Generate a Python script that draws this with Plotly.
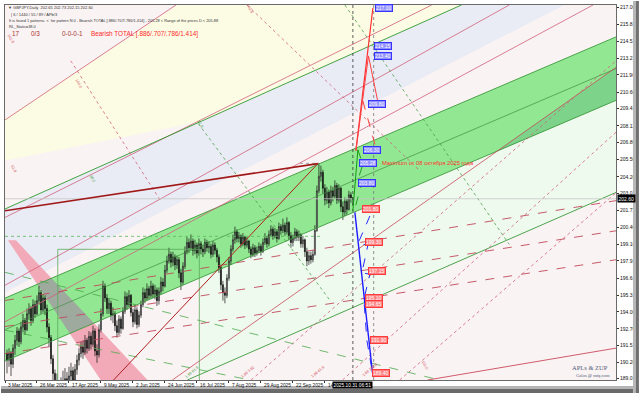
import plotly.graph_objects as go

# ---------------- candles (bar index 1..174, daily GBPJPY) ----------------
FIRST_OPEN = 190.9
CLOSE = [190.4, 190.9, 190.1, 191.3, 191.9, 192.6, 191.8, 192.9, 193.4, 192.7,
         193.9, 194.3, 193.4, 194.6, 193.9, 194.9, 195.5, 194.2, 195.1, 194.3,
         192.9, 192.1, 190.5, 189.4, 188.0, 187.4, 185.8, 188.2, 187.6, 189.0,
         188.3, 189.2, 189.6, 188.9, 189.7, 190.4, 190.9, 191.4, 191.0, 191.9,
         191.3, 192.2, 191.6, 192.6, 191.1, 190.8, 192.7, 193.9, 196.0, 195.1,
         194.3, 194.7, 193.8, 193.9, 193.0, 192.5, 193.5, 192.8, 194.1, 195.2,
         194.6, 195.3, 194.0, 193.3, 194.2, 193.1, 193.8, 194.6, 195.5, 195.1,
         195.8, 195.3, 196.0, 195.4, 195.7, 194.9, 195.6, 196.3, 196.0, 197.2,
         197.9, 198.4, 197.8, 198.2, 197.6, 198.0, 197.0, 196.3, 197.5, 198.6,
         199.3, 198.9, 199.4, 198.7, 199.1, 198.5, 199.2, 198.8, 198.6, 199.3,
         198.9, 199.0, 198.4, 199.1, 198.7, 198.2, 197.4, 196.1, 195.5, 195.3,
         196.6, 197.9, 198.8, 199.5, 200.1, 199.6, 199.8, 199.2, 199.7, 199.1,
         199.4, 198.8, 198.4, 198.9, 198.5, 198.7, 199.0, 198.6, 199.3, 199.6,
         199.2, 199.9, 200.3, 199.8, 200.1, 199.6, 200.5, 200.2, 200.6, 200.1,
         200.8, 199.8, 199.3, 199.6, 200.1, 199.7, 199.9, 199.2, 199.5, 198.6,
         197.9, 198.3, 198.0, 198.4, 200.2, 203.2, 204.3, 204.6, 203.4, 202.5,
         203.1, 202.3, 203.2, 202.8, 203.6, 202.5, 203.4, 202.0, 201.6, 202.4,
         201.8, 202.9, 202.65, 202.60]
HIGH = [191.2, 191.3, 191.1, 191.6, 192.3, 192.9, 192.8, 193.3, 193.9, 193.6,
        194.3, 194.7, 194.5, 195.0, 194.9, 195.3, 196.0, 195.7, 195.4, 195.3,
        194.6, 193.2, 192.3, 190.8, 189.7, 189.4, 188.2, 189.1, 189.6, 189.8,
        189.5, 189.9, 190.2, 189.9, 190.1, 190.8, 191.3, 191.8, 191.9, 192.3,
        192.1, 192.6, 192.5, 193.0, 192.8, 191.6, 193.1, 194.3, 196.4, 196.2,
        195.4, 195.1, 194.9, 194.4, 194.1, 193.4, 193.8, 193.7, 194.4, 195.6,
        195.5, 195.7, 195.4, 194.3, 194.6, 194.4, 194.1, 194.9, 195.9, 195.8,
        196.2, 196.0, 196.4, 196.2, 196.1, 195.9, 195.9, 196.7, 196.6, 197.6,
        198.3, 198.9, 198.6, 198.6, 198.4, 198.3, 198.2, 197.3, 197.8, 199.0,
        199.7, 199.6, 199.9, 199.6, 199.5, 199.3, 199.6, 199.4, 199.1, 199.6,
        199.5, 199.4, 199.2, 199.4, 199.3, 198.9, 198.4, 197.6, 196.4, 195.9,
        196.9, 198.2, 199.1, 199.9, 200.5, 200.3, 200.1, 199.9, 200.0, 199.8,
        199.7, 199.5, 199.0, 199.2, 199.1, 199.0, 199.3, 199.2, 199.6, 200.0,
        199.8, 200.2, 200.6, 200.5, 200.4, 200.3, 200.8, 200.7, 201.1, 200.8,
        201.2, 200.9, 200.1, 199.9, 200.4, 200.3, 200.2, 200.0, 199.8, 199.6,
        198.9, 198.6, 198.6, 198.7, 200.6, 203.6, 205.3, 205.1, 204.8, 203.7,
        203.5, 203.3, 203.6, 203.5, 204.0, 203.8, 203.7, 203.5, 202.4, 202.7,
        202.6, 203.2, 203.1, 202.73]
LOW = [189.4, 189.9, 189.2, 189.8, 190.8, 191.5, 191.4, 191.6, 192.5, 192.3,
       192.6, 193.5, 193.0, 193.2, 193.6, 193.8, 194.6, 193.9, 194.0, 193.8,
       192.5, 191.4, 190.1, 188.7, 186.9, 186.3, 184.9, 184.5, 187.0, 187.2,
       187.6, 188.0, 188.7, 188.4, 188.6, 189.3, 190.0, 190.6, 190.5, 190.8,
       190.9, 191.1, 191.2, 191.4, 190.7, 190.2, 190.6, 192.5, 193.7, 194.8,
       193.9, 193.9, 193.4, 193.2, 192.6, 192.1, 192.3, 192.4, 192.7, 193.9,
       194.2, 194.4, 193.7, 192.9, 193.1, 192.8, 192.9, 193.6, 194.4, 194.7,
       194.9, 195.0, 195.1, 195.1, 195.0, 194.5, 194.6, 195.4, 195.6, 195.9,
       197.0, 197.7, 197.4, 197.5, 197.2, 197.3, 196.6, 195.7, 196.1, 197.3,
       198.4, 198.5, 198.7, 198.3, 198.4, 198.1, 198.3, 198.4, 198.2, 198.4,
       198.6, 198.5, 198.1, 198.2, 198.4, 197.8, 197.0, 195.7, 194.9, 194.7,
       195.1, 196.4, 197.6, 198.6, 199.2, 199.3, 199.3, 198.9, 199.0, 198.8,
       198.9, 198.5, 198.1, 198.2, 198.2, 198.3, 198.5, 198.3, 198.5, 199.1,
       198.9, 199.0, 199.7, 199.5, 199.6, 199.3, 199.5, 199.9, 200.0, 199.8,
       199.9, 199.5, 198.9, 199.0, 199.4, 199.4, 199.4, 198.9, 198.9, 198.2,
       197.5, 197.6, 197.7, 197.8, 198.3, 200.1, 203.0, 203.9, 203.0, 202.1,
       202.2, 201.9, 202.1, 202.4, 202.6, 202.2, 202.3, 201.6, 201.0, 201.3,
       201.4, 201.7, 202.3, 202.15]
BARS = list(range(1, len(CLOSE) + 1))
OPEN = [FIRST_OPEN] + CLOSE[:-1]

# ---------------- axes ----------------
DATE_BARS = [0, 16, 32, 48, 64, 80, 96, 112, 128, 144, 160]
DATE_LABELS = ["3 Mar 2025", "26 Mar 2025", "17 Apr 2025", "9 May 2025", "2 Jun 2025",
               "24 Jun 2025", "16 Jul 2025", "7 Aug 2025", "29 Aug 2025", "22 Sep 2025",
               "14"]
PRICE_TICKS = [217.06, 215.81, 214.51, 213.21, 211.96, 210.66, 209.41, 208.11, 206.86,
               205.56, 204.26, 203.01, 201.71, 200.46, 199.16, 197.91, 196.61, 195.31,
               194.06, 192.76, 191.51, 190.26, 189.01]
X_RANGE = [0, 305.6]
Y_RANGE = [188.90, 217.25]
CURRENT_PRICE = 202.60
CURRENT_BAR = 174
CURRENT_TIME = "2025.10.31 06:51"

# ---------------- filled zones (bar index, price) ----------------
YELLOW_X = [0, 86.2, 228.3, 97.7, 0]
YELLOW_Y = [208.65, 217.25, 217.25, 208.43, 205.49]
LAVENDER_X = [0, 228.3, 279.7, 0]
LAVENDER_Y = [201.83, 217.25, 217.25, 195.53]
MINT_X = [97.7, 305.6, 305.6, 97.7]
MINT_Y = [196.64, 210.04, 203.08, 189.33]
BAND_X = [0, 305.6, 305.6, 0]
BAND_Y = [195.09, 214.84, 210.04, 190.33]
BAND_MID_X = [0, 305.6]
BAND_MID_Y = [192.71, 212.44]
BAND_DARK_X = [245.8, 305.6, 305.6]
BAND_DARK_Y = [206.18, 212.53, 210.04]
PINK_UP_X = [1.5, 5.48, 23.28, 16.10]
PINK_UP_Y = [199.46, 199.46, 196.60, 196.13]
PINK_LOW_X = [32.40, 44.47, 71.29, 47.86]
PINK_LOW_Y = [192.41, 193.20, 188.90, 188.90]
GRAY_X = [16.10, 23.28, 44.47, 32.40]
GRAY_Y = [196.13, 196.60, 193.20, 192.41]

# ---------------- lines (bar index, price) ----------------
XA_X, XA_Y = [0, 156.5], [201.70, 205.26]
BC_X, BC_Y = [54.3, 156.5], [188.90, 205.26]
G1_X, G1_Y = [0, 228.3], [201.83, 217.25]
G2_X, G2_Y = [91.2, 305.6], [188.90, 203.08]
PA_X, PA_Y = [0, 85.5], [208.56, 217.25]
P2_X, P2_Y = [0, 252.2], [196.06, 217.25]
P3_X, P3_Y = [0, 213.4], [201.19, 217.25]
P4_X, P4_Y = [0, 294.1], [193.30, 217.25]
LR_X, LR_Y = [83.7, 305.6], [188.90, 212.53]
FAN_X = [0, 305.6]
FAN1_Y = [194.91, 202.46]
FAN2_Y = [192.94, 200.18]
FAN3_Y = [190.90, 197.99]
LOWRED_X, LOWRED_Y = [211.4, 305.6], [188.90, 191.31]
DOTA_X, DOTA_Y = [168.8, 305.6], [188.90, 207.63]
DOTB_X, DOTB_Y = [197.4, 305.6], [188.90, 203.05]
DOTC_X, DOTC_Y = [123.1, 305.6], [188.90, 213.03]
GD1_X, GD1_Y = [96.7, 162.5], [208.28, 194.93]
GD2_X, GD2_Y = [170.0, 252.2], [217.25, 199.15]
RD1_X, RD1_Y = [121.1, 207.4], [217.25, 204.73]
RD2_X, RD2_Y = [32.9, 77.8], [213.03, 202.47]
G3_X, G3_Y = [0, 217.3], [197.04, 188.90]
G4_X, G4_Y = [0, 122.6], [192.67, 188.90]
RECT_X = [26.4, 26.4, 97.2, 97.2]
RECT_Y = [188.0, 198.78, 198.78, 188.0]
LEVEL_GREEN, LEVEL_GREEN_X = 199.76, [0, 158]
MAX_LEVEL, MAX_LEVEL_X = 205.28, [147.6, 157]
VLINE_BARS = [174, 184.4]

# ---------------- projection (pattern targets) ----------------
BLUE_MAIN_X, BLUE_MAIN_Y = [175, 183.8], [201.57, 189.45]
BLUE_ZIG_X = [182.5, 176.5, 181.5, 178.5, 182.5, 179.5, 181.0, 183.8]
BLUE_ZIG_Y = [201.3, 199.2, 199.1, 197.0, 196.9, 195.0, 191.9, 189.45]
RED_UP1_X, RED_UP1_Y = [175.5, 184.0], [206.24, 217.02]
RED_UP2_X, RED_UP2_Y = [175.5, 181.8, 186.4], [206.24, 213.4, 210.0]
RED_UP3_X, RED_UP3_Y = [179.0, 185.4], [210.0, 206.5]
GREEN_P_X, GREEN_P_Y = [174.0, 176.5], [201.7, 206.3]
GREEN_PD_X = [176.5, 179.0, 176.0, 178.5, 174.5]
GREEN_PD_Y = [206.3, 205.2, 203.8, 203.8, 201.6]

UP_LABELS = ["217.00", "214.15", "213.40", "209.80", "206.30", "205.28", "203.80"]
UP_VALUES = [217.00, 214.15, 213.40, 209.80, 206.30, 205.28, 203.80]
UP_BARS = [185.0, 184.4, 184.4, 181.5, 179.0, 177.0, 176.5]
DOWN_LABELS = ["201.80", "199.30", "197.15", "195.10", "194.65", "191.90", "189.40"]
DOWN_VALUES = [201.80, 199.30, 197.15, 195.10, 194.65, 191.90, 189.40]
DOWN_BARS = [178.5, 180.0, 181.5, 180.0, 180.0, 182.5, 183.5]

FIB_TEXT = ["161.8", "100.0", "61.8", "38.2", "61.8", "161.8",
            "1.66 61.8", "1.66 3.82", "1.66 61.8", "1.66 100.0", "100.0"]
FIB_X = [3, 37, 97.7, 43.9, 4, 122.6, 93.7, 121.6, 156.5, 182.5, 209.9]
FIB_Y = [214.69, 211.3, 208.28, 204.13, 204.9, 216.95, 189.5, 189.5, 189.5, 189.65, 190.03]
FIB_GREEN = [False, False, True, True, False, False, True, False, False, False, False]

SANS = "Liberation Sans, Arial, sans-serif"

fig = go.Figure()
shapes = []


def zone(xs, ys, color):
    path = "M " + " L ".join(f"{a},{b}" for a, b in zip(xs, ys)) + " Z"
    shapes.append(dict(type="path", xref="x", yref="y", path=path, fillcolor=color,
                       line=dict(width=0), layer="below"))


def seg(xs, ys, color, width=0.8, dash="solid"):
    fig.add_trace(go.Scatter(x=xs, y=ys, mode="lines", line=dict(color=color, width=width, dash=dash),
                             hoverinfo="skip", showlegend=False))


zone(YELLOW_X, YELLOW_Y, "#fcfce4")
zone(LAVENDER_X, LAVENDER_Y, "#eaecf5")
zone(MINT_X, MINT_Y, "#effaef")
zone(BAND_X, BAND_Y, "#92e892")
zone(BAND_DARK_X, BAND_DARK_Y, "#7dd38a")
zone(PINK_UP_X, PINK_UP_Y, "#f2aab8")
zone(PINK_LOW_X, PINK_LOW_Y, "#f2aab8")
zone(GRAY_X, GRAY_Y, "#9faa9f")

# band edges
seg([BAND_X[0], BAND_X[1]], [BAND_Y[0], BAND_Y[1]], "#3c9a3c", 0.9)
seg([BAND_X[3], BAND_X[2]], [BAND_Y[3], BAND_Y[2]], "#3c9a3c", 0.9)
seg(BAND_MID_X, BAND_MID_Y, "#3f8f3f", 0.7)

# pitchfork / channel lines
seg(PA_X, PA_Y, "#d0607a", 0.8)
seg(P2_X, P2_Y, "#d0607a", 0.8)
seg(P3_X, P3_Y, "#d0607a", 0.8)
seg(P4_X, P4_Y, "#d0607a", 0.8)
seg(LR_X, LR_Y, "#c84a5a", 0.8)
seg(G1_X, G1_Y, "#2f9a2f", 0.9)
seg(G2_X, G2_Y, "#3a9a3a", 0.9)
for fy in (FAN1_Y, FAN2_Y, FAN3_Y):
    seg(FAN_X, fy, "#c0485a", 0.9, "dash")
seg(LOWRED_X, LOWRED_Y, "#cc4a5c", 0.9)
for dx, dy in ((DOTA_X, DOTA_Y), (DOTB_X, DOTB_Y), (DOTC_X, DOTC_Y), (RD1_X, RD1_Y), (RD2_X, RD2_Y)):
    seg(dx, dy, "#d0607a", 0.8, "dot")
for dx, dy in ((GD1_X, GD1_Y), (GD2_X, GD2_Y)):
    seg(dx, dy, "#4aa04a", 0.8, "dot")
seg(G3_X, G3_Y, "#4aa84a", 0.8, "dash")
seg(G4_X, G4_Y, "#4aa84a", 0.8, "dash")
seg(RECT_X, RECT_Y, "#5aa85a", 0.8)

seg(X_RANGE, [CURRENT_PRICE, CURRENT_PRICE], "#c8c8c8", 0.8)
seg(LEVEL_GREEN_X, [LEVEL_GREEN, LEVEL_GREEN], "#5cb85c", 0.8, "dot")
seg(MAX_LEVEL_X, [MAX_LEVEL, MAX_LEVEL], "#888888", 0.8, "dot")
seg([VLINE_BARS[0]] * 2, Y_RANGE, "#333333", 0.8, "dot")
seg([VLINE_BARS[1]] * 2, Y_RANGE, "#777777", 0.8, "dot")

seg(XA_X, XA_Y, "#a01818", 1.6)
seg(BC_X, BC_Y, "#b02020", 1.0)

# candles
fig.add_trace(go.Candlestick(
    x=BARS, open=OPEN, high=HIGH, low=LOW, close=CLOSE,
    increasing=dict(line=dict(color="#111111", width=0.7), fillcolor="#ffffff"),
    decreasing=dict(line=dict(color="#111111", width=0.7), fillcolor="#111111"),
    whiskerwidth=0, hoverinfo="skip", showlegend=False))

# projections
seg(GREEN_P_X, GREEN_P_Y, "#109a10", 1.0)
seg(GREEN_PD_X, GREEN_PD_Y, "#109a10", 0.9, "dash")
seg(RED_UP1_X, RED_UP1_Y, "#ff3030", 1.2)
seg(RED_UP2_X, RED_UP2_Y, "#ff4040", 1.0)
seg(RED_UP3_X, RED_UP3_Y, "#ff4040", 1.0, "dash")
seg(BLUE_MAIN_X, BLUE_MAIN_Y, "#1c1cff", 1.4)
seg(BLUE_ZIG_X, BLUE_ZIG_Y, "#2a2aff", 1.0, "dash")

ann = []
for t, v, b in zip(UP_LABELS, UP_VALUES, UP_BARS):
    ann.append(dict(x=b, y=v, xref="x", yref="y", text=t, showarrow=False, xanchor="left",
                    font=dict(family=SANS, size=5, color="#ffffff"),
                    bgcolor="#8f8fff", bordercolor="#3535ff", borderwidth=1, borderpad=0))
for t, v, b in zip(DOWN_LABELS, DOWN_VALUES, DOWN_BARS):
    ann.append(dict(x=b, y=v, xref="x", yref="y", text=t, showarrow=False, xanchor="left",
                    font=dict(family=SANS, size=5, color="#ffffff"),
                    bgcolor="#ff8080", bordercolor="#ff3a3a", borderwidth=1, borderpad=0))
ann.append(dict(x=187.6, y=MAX_LEVEL, xref="x", yref="y", text="Maximum от 08 октября 2025 года",
                showarrow=False, xanchor="left", font=dict(family=SANS, size=5.8, color="#ff3030")))

for t, fx, fy, g in zip(FIB_TEXT, FIB_X, FIB_Y, FIB_GREEN):
    ann.append(dict(x=fx, y=fy, xref="x", yref="y", text=t, showarrow=False,
                    textangle=-40 if "1.66" in t else 60,
                    font=dict(family=SANS, size=3.8, color="#3c9a3c" if g else "#d04a5a")))

# date labels (under axis)
for b, lab in zip(DATE_BARS, DATE_LABELS):
    ann.append(dict(x=b, y=-0.003, xref="x", yref="paper", text=lab, showarrow=False,
                    xanchor="left", yanchor="top", xshift=1,
                    font=dict(family=SANS, size=4.8, color="#111111")))
ann.append(dict(x=CURRENT_BAR, y=-0.003, xref="x", yref="paper", text=CURRENT_TIME, showarrow=False,
                xanchor="center", yanchor="top", bgcolor="#000000", borderpad=0.5,
                font=dict(family=SANS, size=4.8, color="#ffffff")))
ann.append(dict(x=1.0, y=CURRENT_PRICE, xref="paper", yref="y", text=f"{CURRENT_PRICE:.2f}",
                showarrow=False, xanchor="left", bgcolor="#000000", borderpad=0.5, xshift=1,
                font=dict(family=SANS, size=5, color="#ffffff")))


def paper(px, py):
    return (px - 4) / 613.0, (380 - py) / 376.0


HEADER = [
    (5, 6.5, "▼ GBPJPY,Daily  202.65 202.73 202.15 202.60", "#333333", 4.0),
    (8, 14, "| 6 / 1440 / 55 / 89 / APb/3", "#333333", 4.0),
    (6, 20, "It is found 1 patterns. <  for pattern N 0 - Bearish TOTAL [.886/.707/.786/1.414] - 205.28 < Range of the prices D < 205.88", "#333333", 3.9),
    (6, 25.5, "RL_Static=38.0", "#333333", 3.9),
    (9, 33, "17", "#b03030", 6.4),
    (28, 33, "0/3", "#b03030", 6.4),
    (59, 33, "0-0-0-1", "#a83838", 6.4),
    (88, 33, "Bearish TOTAL [.886/.707/.786/1.414]", "#ff2a2a", 6.4),
]
for hx, hy, txt, col, sz in HEADER:
    px_, py_ = paper(hx, hy)
    ann.append(dict(x=px_, y=py_, xref="paper", yref="paper", text=txt, showarrow=False,
                    xanchor="left", yanchor="middle", font=dict(family=SANS, size=sz, color=col)))
for hx, hy, txt, sz in ((591, 367, "APLs &amp; ZUP", 6.5), (594, 375, "Galos @ mtq.com", 4.6)):
    px_, py_ = paper(hx, hy)
    ann.append(dict(x=px_, y=py_, xref="paper", yref="paper", text=txt, showarrow=False,
                    xanchor="center", yanchor="middle",
                    font=dict(family="Liberation Serif, DejaVu Serif, serif", size=sz, color="#50607a")))

# window frame shadow (bottom and right)
x0, y0 = paper(0, 386)
x1, y1 = paper(640, 389)
_, y2 = paper(0, 393)
shapes += [
    dict(type="rect", xref="paper", yref="paper", x0=x0, x1=x1, y0=y1, y1=y0, fillcolor="#b4b4b4", line=dict(width=0), layer="above"),
    dict(type="rect", xref="paper", yref="paper", x0=x0, x1=x1, y0=y2, y1=y1, fillcolor="#6a6a6a", line=dict(width=0), layer="above"),
]
rx0, _ = paper(634, 0)
rx1, _ = paper(637, 0)
rx2, ytop = paper(640, 0)
shapes += [
    dict(type="rect", xref="paper", yref="paper", x0=rx0, x1=rx1, y0=y2, y1=ytop, fillcolor="#b8b8b8", line=dict(width=0), layer="above"),
    dict(type="rect", xref="paper", yref="paper", x0=rx1, x1=rx2, y0=y2, y1=ytop, fillcolor="#707070", line=dict(width=0), layer="above"),
]

fig.update_layout(
    width=640, height=393, margin=dict(l=4, r=23, t=4, b=13),
    paper_bgcolor="#ffffff", plot_bgcolor="#faf3f3", showlegend=False,
    annotations=ann, shapes=shapes,
    xaxis=dict(range=X_RANGE, type="linear", showgrid=False, zeroline=False, showticklabels=False,
               tickvals=DATE_BARS, ticks="outside", ticklen=2, tickcolor="#333",
               rangeslider=dict(visible=False), showline=True, mirror=True, linecolor="#6a6a6a", linewidth=1),
    yaxis=dict(side="right", range=Y_RANGE, showgrid=False, zeroline=False,
               tickvals=PRICE_TICKS, ticktext=[f"{v:.2f}" for v in PRICE_TICKS],
               ticks="outside", ticklen=2, tickcolor="#333",
               tickfont=dict(family=SANS, size=5, color="#111111"),
               showline=True, mirror=True, linecolor="#6a6a6a", linewidth=1),
)

fig.write_html("out.html")
